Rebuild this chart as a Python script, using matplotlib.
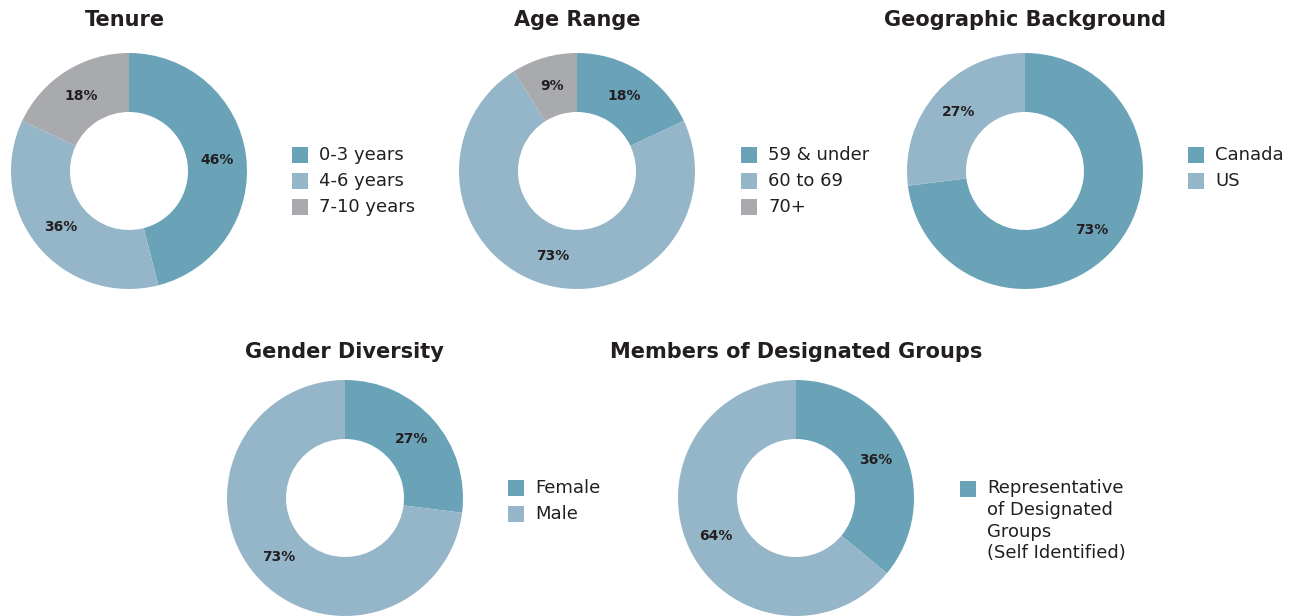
import matplotlib.pyplot as plt
from matplotlib.patches import Rectangle
import numpy as np

W, H = 1295, 616

dark = "#6aa3b8"
light = "#95b6c8"
grey = "#a9aaae"
txt = "#231f20"

# data
tenure_labels = ["0-3 years", "4-6 years", "7-10 years"]
tenure_vals = [46, 36, 18]

age_labels = ["59 & under", "60 to 69", "70+"]
age_vals = [18, 73, 9]

geo_labels = ["Canada", "US"]
geo_vals = [73, 27]

gender_labels = ["Female", "Male"]
gender_vals = [27, 73]

desig_labels = ["Representative\nof Designated\nGroups\n(Self Identified)", None]
desig_vals = [36, 64]

charts = [
    # title, values, legend labels, colors, center px, legend px, title x
    ("Tenure", tenure_vals, tenure_labels, [dark, light, grey], (129, 171), (292, 155), 125),
    ("Age Range", age_vals, age_labels, [dark, light, grey], (577, 171), (741, 155), 577),
    ("Geographic Background", geo_vals, geo_labels, [dark, light], (1025, 171), (1188, 155), 1025),
    ("Gender Diversity", gender_vals, gender_labels, [dark, light], (345, 498), (508, 488), 344),
    ("Members of Designated Groups", desig_vals, desig_labels, [dark, light], (796, 498), (960, 489), 796),
]

R = 118

fig = plt.figure(figsize=(W / 100, H / 100), dpi=100)

for title, vals, labels, colors, (cx, cy), (lx, ly), tx in charts:
    ax = fig.add_axes([(cx - R) / W, 1 - (cy + R) / H, 2 * R / W, 2 * R / H])
    wedges, _ = ax.pie(vals, colors=colors, startangle=90, counterclock=False,
                       radius=1, wedgeprops=dict(width=0.5, linewidth=0))
    ax.set_xlim(-1, 1)
    ax.set_ylim(-1, 1)
    ax.set_aspect("equal")
    ax.axis("off")
    for w, v in zip(wedges, vals):
        ang = np.deg2rad((w.theta1 + w.theta2) / 2)
        ax.text(0.75 * np.cos(ang), 0.75 * np.sin(ang), f"{v}%", ha="center", va="center",
                fontsize=10, fontweight="bold", color=txt)

    ty = 20 if cy < 300 else 352
    fig.text(tx / W, 1 - ty / H, title, ha="center", va="center",
             fontsize=15, fontweight="bold", color=txt)

    # legend
    row = 0
    for lab, c in zip(labels, colors):
        if lab is None:
            continue
        y = ly + row * 26
        fig.add_artist(Rectangle((lx / W, 1 - (y + 8) / H), 16 / W, 16 / H,
                                 transform=fig.transFigure, color=c, lw=0))
        if "\n" in lab:
            fig.text((lx + 27) / W, 1 - (y - 10) / H, lab, ha="left", va="top",
                     fontsize=13, color=txt, linespacing=1.27)
        else:
            fig.text((lx + 27) / W, 1 - y / H, lab, ha="left", va="center",
                     fontsize=13, color=txt)
        row += 1

fig.savefig("out.png", dpi=100)
